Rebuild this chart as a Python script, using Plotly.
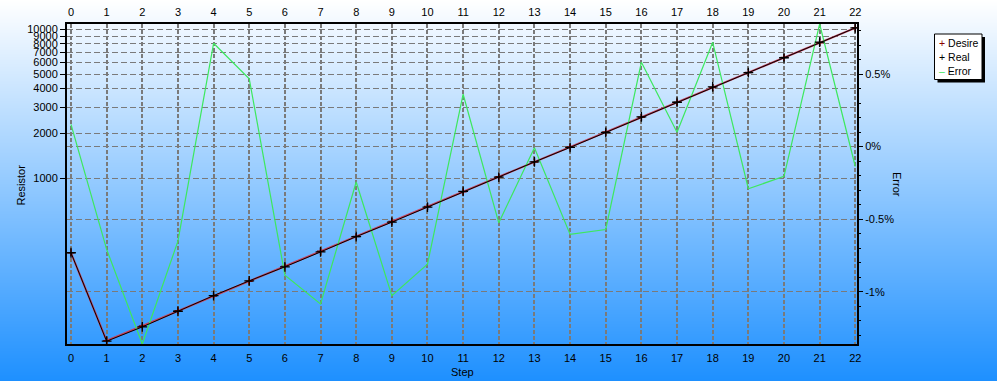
import base64
import struct
import zlib

import plotly.graph_objects as go

# ---------------- data ----------------
steps = list(range(23))
desire = [316, 81.3, 102, 129, 162, 204, 257, 324, 407, 513, 646, 813, 1023,
          1288, 1622, 2042, 2570, 3236, 4074, 5129, 6457, 8128, 10233]
real = [316.5, 80.7, 100.6, 128.2, 163.2, 205.0, 254.7, 320.5, 406.0, 507.7, 640.8,
        815.9, 1017.6, 1287.9, 1612.2, 2030.3, 2585.0, 3239.2, 4103.3, 5114.1,
        6443.8, 8196.7, 10219.0]
error_pct = [0.153, -0.708, -1.36, -0.651, 0.712, 0.468, -0.886, -1.084, -0.244,
             -1.027, -0.810, 0.361, -0.525, -0.007, -0.605, -0.571, 0.582, 0.099,
             0.719, -0.290, -0.205, 0.845, -0.137]
res_ticks = [1000, 2000, 3000, 4000, 5000, 6000, 7000, 8000, 9000, 10000]
res_labels = [str(v) for v in res_ticks]
err_ticks = [-1, -0.5, 0, 0.5]
err_labels = ["-1%", "-0.5%", "0%", "0.5%"]
legend_names = ["Desire", "Real", "Error"]

# ---------------- geometry ----------------
FW, FH = 997, 381
L, R, T, B = 67, 857, 24, 344
W, H = R - L, B - T


def px(x):
    return (x - L) / W


def py(y):
    return 1 - (y - T) / H


# ---------------- background gradient image ----------------
def gradient_png(h, top, bottom):
    raw = b""
    for i in range(h):
        t = i / (h - 1)
        c = bytes(int(round(top[k] + (bottom[k] - top[k]) * t)) for k in range(3))
        raw += b"\x00" + c * 2

    def chunk(tag, data):
        return (struct.pack(">I", len(data)) + tag + data +
                struct.pack(">I", zlib.crc32(tag + data) & 0xffffffff))

    png = b"\x89PNG\r\n\x1a\n"
    png += chunk(b"IHDR", struct.pack(">IIBBBBB", 2, h, 8, 2, 0, 0, 0))
    png += chunk(b"IDAT", zlib.compress(raw, 9))
    png += chunk(b"IEND", b"")
    return "data:image/png;base64," + base64.b64encode(png).decode()


bg = gradient_png(FH, (255, 255, 255), (30, 144, 255))

FONT = "Liberation Sans, Arial, sans-serif"
GRID = "#7a7a7a"

fig = go.Figure()

fig.add_trace(go.Scatter(
    x=steps, y=error_pct, xaxis="x", yaxis="y2", mode="lines",
    line=dict(color="#3de85e", width=1.2), name=legend_names[2], hoverinfo="skip"))
fig.add_trace(go.Scatter(
    x=steps, y=desire, xaxis="x", yaxis="y", mode="lines+markers",
    line=dict(color="#c8405a", width=2),
    marker=dict(symbol="cross-thin", size=5, line=dict(color="#8b0000", width=1.5)),
    name=legend_names[0], hoverinfo="skip"))
fig.add_trace(go.Scatter(
    x=steps, y=real, xaxis="x2", yaxis="y", mode="lines+markers",
    line=dict(color="black", width=1),
    marker=dict(symbol="cross-thin", size=7, line=dict(color="black", width=1.3)),
    name=legend_names[1], hoverinfo="skip"))

xr = [-0.112, 22.048]
common_x = dict(
    range=xr, tickmode="linear", tick0=0, dtick=1,
    showgrid=True, gridcolor=GRID, gridwidth=2, griddash="4px,2px",
    tickfont=dict(family=FONT, size=11, color="black"),
    ticks="outside", ticklen=3, tickcolor="rgba(0,0,0,0)",
    zeroline=False, automargin=False,
)

fig.update_layout(
    width=FW, height=FH,
    margin=dict(l=L, r=FW - R, t=T, b=FH - B, pad=0, autoexpand=False),
    paper_bgcolor="#1e90ff",
    plot_bgcolor="rgba(0,0,0,0)",
    showlegend=False,
    xaxis=dict(**common_x, showline=True, linecolor="black", linewidth=2,
               mirror=True, side="bottom", anchor="y"),
    xaxis2=dict(**common_x, showline=False, side="top", overlaying="x",
                anchor="y", matches="x"),
    yaxis=dict(type="log", range=[1.888, 4.0356], tickvals=res_ticks,
               ticktext=res_labels, showgrid=True, gridcolor=GRID, gridwidth=1,
               griddash="6px,3px", showline=True, linecolor="black", linewidth=2,
               mirror=True, ticks="outside", ticklen=5, tickcolor="black",
               tickfont=dict(family=FONT, size=11, color="black"), zeroline=False,
               automargin=False),
    yaxis2=dict(range=[-1.36, 0.845], tickvals=err_ticks, ticktext=err_labels,
                overlaying="y", side="right", anchor="x", showgrid=True,
                gridcolor=GRID, gridwidth=1, griddash="6px,3px", showline=False,
                ticks="outside", ticklen=5, tickcolor="black",
                minor=dict(dtick=0.1, tick0=0, ticks="outside", ticklen=3,
                           tickcolor="black", showgrid=False),
                tickfont=dict(family=FONT, size=11, color="black"), zeroline=False,
                automargin=False),
    images=[dict(source=bg, xref="paper", yref="paper", x=px(0), y=py(0),
                 sizex=FW / W, sizey=FH / H, sizing="stretch",
                 xanchor="left", yanchor="top", layer="below")],
)

# axis titles
title_font = dict(family=FONT, size=11, color="black")
fig.add_annotation(text="Resistor", xref="paper", yref="paper", x=px(20.5), y=py(185),
                   textangle=-90, showarrow=False, xanchor="center", yanchor="middle",
                   font=title_font)
fig.add_annotation(text="Error", xref="paper", yref="paper", x=px(897), y=py(184),
                   textangle=90, showarrow=False, xanchor="center", yanchor="middle",
                   font=title_font)
fig.add_annotation(text="Step", xref="paper", yref="paper", x=px(462), y=py(372),
                   showarrow=False, xanchor="center", yanchor="middle", font=title_font)

# legend box with shadow
fig.add_shape(type="rect", xref="paper", yref="paper",
              x0=px(937.5), x1=px(985), y0=py(37), y1=py(82.5),
              fillcolor="black", line=dict(width=0), layer="above")
fig.add_shape(type="rect", xref="paper", yref="paper",
              x0=px(934.5), x1=px(982), y0=py(34), y1=py(79.5),
              fillcolor="white", line=dict(color="black", width=1), layer="above")
leg_sym = ['<span style="color:#8b0000">+</span>',
           '<span style="color:black">+</span>',
           '<span style="color:#3de85e">\u2013</span>']
for i, name in enumerate(legend_names):
    fig.add_annotation(text=leg_sym[i] + " " + name, xref="paper", yref="paper",
                       x=px(937), y=py(43 + 14 * i), xanchor="left", yanchor="middle",
                       showarrow=False, font=dict(family=FONT, size=10.5, color="black"))

fig.write_html("out.html",
               config={"displayModeBar": False},
               post_script="document.body.style.margin='0px';"
                           "document.body.style.overflow='hidden';")
